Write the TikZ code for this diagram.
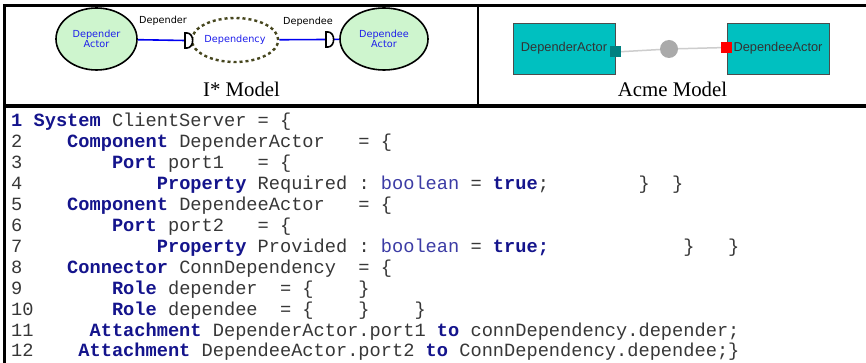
\documentclass[tikz,border=0pt]{standalone}
\usepackage{fontspec}
\setmainfont{Liberation Serif}
\newfontfamily\codefont{Liberation Mono}
\newfontfamily\istarfont{DejaVu Sans}
\newfontfamily\acmefont{Liberation Sans}
\usetikzlibrary{shapes.geometric}
\definecolor{kwc}{RGB}{20,20,140}
\definecolor{txtc}{RGB}{55,55,55}
\definecolor{typc}{RGB}{60,60,165}
\definecolor{actfill}{RGB}{206,245,206}
\definecolor{depc}{RGB}{0,0,240}
\definecolor{dotc}{RGB}{70,70,30}
\definecolor{itext}{RGB}{30,30,235}
\definecolor{acmefill}{RGB}{0,192,192}
\definecolor{portc}{RGB}{0,128,128}
\definecolor{rolec}{RGB}{205,205,205}
\definecolor{conc}{RGB}{170,170,170}
\newcommand\kw[1]{\textcolor{kwc}{\bfseries #1}}
\newcommand\ty[1]{\textcolor{typc}{#1}}
\tikzset{
  frameline/.style={line width=#1, black},
  istar/.style={font=\istarfont\fontsize{9.7}{10.5}\selectfont},
  actor/.style={ellipse, draw=black, line width=1.6pt, fill=actfill,
    minimum width=81pt, minimum height=62pt, inner sep=0pt, align=center,
    text=itext, istar},
  goal/.style={ellipse, draw=dotc, line width=2.4pt, dash pattern=on 3pt off 3pt,
    fill=white, minimum width=84pt, minimum height=44pt, inner sep=0pt,
    text=itext, istar},
  dep/.style={draw=depc, line width=1.6pt},
  dend/.pic={\draw[line width=1.6pt, fill=white] (0,-7.5) -- (0,7.5) -- (2,7.5)
    .. controls (9.5,7.5) and (9.5,-7.5) .. (2,-7.5) -- cycle;},
  ilabel/.style={istar, text=black, inner sep=0pt},
  caption/.style={font=\fontsize{20.8}{24}\selectfont, anchor=base, inner sep=0pt},
  comp/.style={rectangle, draw=black!70, line width=0.8pt, fill=acmefill,
    minimum width=102pt, minimum height=51pt, inner sep=0pt,
    font=\acmefont\fontsize{12.8}{14}\selectfont, text=black!80},
  port/.style={rectangle, minimum size=11pt, inner sep=0pt},
  conn/.style={circle, fill=conc, minimum size=18pt, inner sep=0pt},
  role/.style={draw=rolec, line width=1.5pt},
  code/.style={anchor=base west, inner sep=0pt, text=txtc,
    font=\codefont\fontsize{18.67}{20}\selectfont\frenchspacing}
}
\begin{document}
\begin{tikzpicture}[x=1pt,y=-1pt]
\useasboundingbox (0,0) rectangle (866,363);
\fill[white] (0,0) rectangle (866,363);
% frame
\draw[frameline=3pt] (3.3,6) -- (866,6);
\draw[frameline=2.5pt] (4.5,4.5) -- (4.5,363);
\draw[frameline=3.5pt] (3.3,106) -- (866,106);
\draw[frameline=2.5pt] (478,6) -- (478,106);
% i* model
\node[actor] (da) at (96.5,39) {Depender\\Actor};
\node[goal] (dy) at (235,40) {Dependency};
\node[actor, minimum width=88pt] (de) at (384,39) {Dependee\\Actor};
\coordinate (d1) at (185,40.5);
\coordinate (d2) at (326,39.5);
\draw[dep] (da) -- (d1);
\draw[dep] (dy) -- (d2);
\draw[dep] (d2) -- (de);
\pic at (d1) {dend};
\pic at (d2) {dend};
\node[ilabel] (l1) at (163,21) {Depender};
\node[ilabel] (l2) at (308,22) {Dependee};
\node[caption] (cap1) at (241.5,97) {I* Model};
% acme model
\node[comp] (ca) at (564,48.5) {DependerActor};
\node[comp] (cb) at (778,48.5) {DependeeActor};
\node[port, fill=portc] (pa) at (615.5,52) {};
\node[port, fill=red] (pb) at (726.5,47.5) {};
\node[conn] (cn) at (669,49) {};
\draw[role] (pa) -- (cn);
\draw[role] (cn) -- (pb);
\node[caption] (cap2) at (672.5,97) {Acme Model};
% code
\node[code] (c1) at (11,127) {\kw{1}~\kw{System}~ClientServer~=~\{};
\node[code] (c2) at (11,147.9) {2~~~~\kw{Component}~DependerActor~~~=~\{};
\node[code] (c3) at (11,168.8) {3~~~~~~~~\kw{Port}~port1~~~=~\{};
\node[code] (c4) at (11,189.7) {4~~~~~~~~~~~~\kw{Property}~Required~:~\ty{boolean}~=~\kw{true};~~~~~~~~\}~~\}};
\node[code] (c5) at (11,210.6) {5~~~~\kw{Component}~DependeeActor~~~=~\{};
\node[code] (c6) at (11,231.5) {6~~~~~~~~\kw{Port}~port2~~~=~\{};
\node[code] (c7) at (11,252.4) {7~~~~~~~~~~~~\kw{Property}~Provided~:~\ty{boolean}~=~\kw{true;}~~~~~~~~~~~~\}~~~\}};
\node[code] (c8) at (11,273.3) {8~~~~\kw{Connector}~ConnDependency~~=~\{};
\node[code] (c9) at (11,294.2) {9~~~~~~~~\kw{Role}~depender~~=~\{~~~~\}};
\node[code] (c10) at (11,315.1) {10~~~~~~~\kw{Role}~dependee~~=~\{~~~~\}~~~~\}};
\node[code] (c11) at (11,336) {11~~~~~\kw{Attachment}~DependerActor.port1~\kw{to}~connDependency.depender;};
\node[code] (c12) at (11,356.9) {12~~~~\kw{Attachment}~DependeeActor.port2~\kw{to}~ConnDependency.dependee;\}};
\end{tikzpicture}
\end{document}
